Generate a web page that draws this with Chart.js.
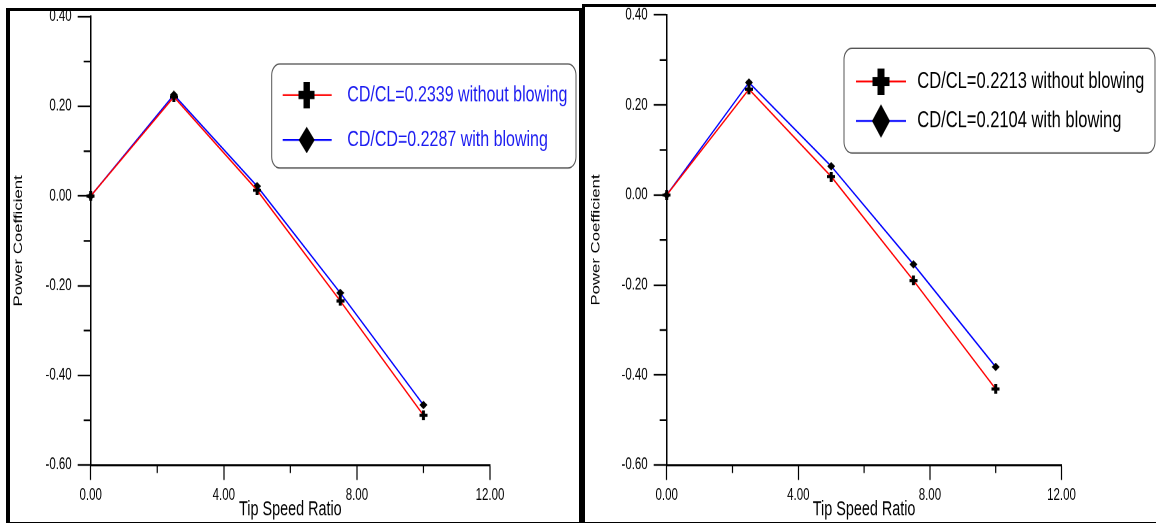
<!DOCTYPE html>
<html>
<head>
<meta charset="utf-8">
<title>Power Coefficient vs Tip Speed Ratio</title>
<script src="https://cdn.jsdelivr.net/npm/chart.js@4.4.1/dist/chart.umd.min.js"></script>
<style>
    html, body { margin: 0; padding: 0; background: #fff; overflow: hidden; }
    body { width: 1156px; height: 523px; position: relative; }
    .frame { position: absolute; box-sizing: border-box; border: 3px solid #000; }
    #frame-a { left: 6px; top: 8px; width: 576px; height: 517px; border-left-width: 4px; }
    #frame-b { left: 582px; top: 4px; width: 580px; height: 521px; }
    canvas { position: absolute; top: 0; transform-origin: 0 0; }
    #chart-a { left: 0; }
    #chart-b { left: 582px; }
</style>
</head>
<body>
<div class="frame" id="frame-a"></div>
<div class="frame" id="frame-b"></div>
<canvas id="chart-a" width="580" height="374"></canvas>
<canvas id="chart-b" width="574" height="374"></canvas>

<script>
/* =============================================
   Data
   ============================================= */

const tipSpeedRatio = [0, 2.5, 5, 7.5, 10];

// left panel
const cpWithoutBlowingA = [0, 0.221, 0.013, -0.234, -0.489];
const cpWithBlowingA = [0, 0.226, 0.022, -0.216, -0.466];
const seriesNamesA = ['CD/CL=0.2339 without blowing', 'CD/CD=0.2287 with blowing'];

// right panel
const cpWithoutBlowingB = [0, 0.235, 0.041, -0.190, -0.431];
const cpWithBlowingB = [0, 0.250, 0.064, -0.154, -0.382];
const seriesNamesB = ['CD/CL=0.2213 without blowing', 'CD/CL=0.2104 with blowing'];

const xRange = [0, 12];
const xStep = 2;
const yRange = [-0.6, 0.4];
const yStep = 0.1;
const xTitle = 'Tip Speed Ratio';
const yTitle = 'Power Coefficient';

/* =============================================
   Look
   ============================================= */

// the original figure is squashed sideways, so each canvas is drawn
// in a shorter box and stretched back up to the window height
const STRETCH = 523 / 374;
const FONT = "'Liberation Sans', Arial, sans-serif";

// filled black marker drawn on a canvas, loaded back as an <img>
// so it stays crisp on the 2x chart canvas
function makeMarker(shape, w, h, barW, barH) {
    const k = 3;
    const c = document.createElement('canvas');
    c.width = w * k;
    c.height = h * k;
    const g = c.getContext('2d');
    g.scale(k, k);
    g.fillStyle = '#000';
    if (shape === 'plus') {
        g.fillRect((w - barW) / 2, 0, barW, h);
        g.fillRect(0, (h - barH) / 2, w, barH);
    } else {
        g.beginPath();
        g.moveTo(w / 2, 0);
        g.lineTo(w, h / 2);
        g.lineTo(w / 2, h);
        g.lineTo(0, h / 2);
        g.closePath();
        g.fill();
    }
    return new Promise(resolve => {
        const img = new Image();
        img.onload = () => resolve(img);
        img.width = w;
        img.height = h;
        img.src = c.toDataURL();
    });
}

// short ticks between the labelled ones
const minorTicks = {
    id: 'minorTicks',
    afterDraw(chart, args, opts) {
        const { ctx, scales: { x, y } } = chart;
        ctx.save();
        ctx.strokeStyle = '#000';
        ctx.lineWidth = 1.2;
        ctx.beginPath();
        y.ticks.forEach((t, i) => {
            if (i % 2) {
                const py = y.getPixelForValue(t.value);
                ctx.moveTo(y.right - opts.yLen, py);
                ctx.lineTo(y.right, py);
            }
        });
        x.ticks.forEach((t, i) => {
            if (i % 2) {
                const px = x.getPixelForValue(t.value);
                ctx.moveTo(px, x.top);
                ctx.lineTo(px, x.top + opts.xLen);
            }
        });
        ctx.stroke();
        ctx.restore();
    }
};

// rounded legend box with line sample + big marker per series
const boxLegend = {
    id: 'boxLegend',
    afterDraw(chart, args, opts) {
        const ctx = chart.ctx;
        ctx.save();
        ctx.beginPath();
        ctx.roundRect(opts.x, opts.y, opts.w, opts.h, opts.radius);
        ctx.strokeStyle = '#555';
        ctx.lineWidth = 1;
        ctx.stroke();

        chart.data.datasets.forEach((ds, i) => {
            const row = opts.rows[i];
            ctx.strokeStyle = ds.borderColor;
            ctx.lineWidth = 1.2;
            ctx.beginPath();
            ctx.moveTo(opts.lineFrom, row);
            ctx.lineTo(opts.lineTo, row);
            ctx.stroke();

            const m = opts.markers[i];
            ctx.drawImage(m, opts.markerX - m.width / 2, row - m.height / 2, m.width, m.height);

            ctx.fillStyle = opts.textColor;
            ctx.font = `${opts.fontSize}px ${FONT}`;
            ctx.textBaseline = 'middle';
            ctx.textAlign = 'left';
            ctx.fillText(ds.label, opts.textX, row);
        });
        ctx.restore();
    }
};

function buildPanel(canvasId, p) {
    const canvas = document.getElementById(canvasId);
    canvas.style.transform = `scaleY(${STRETCH})`;

    return new Chart(canvas.getContext('2d'), {
        type: 'line',
        data: {
            datasets: [
                {
                    label: p.names[0],
                    data: tipSpeedRatio.map((x, i) => ({ x, y: p.without[i] })),
                    borderColor: '#ff0000',
                    borderWidth: 1.2,
                    pointStyle: p.smallPlus,
                    pointRadius: 4,
                    tension: 0,
                    clip: false
                },
                {
                    label: p.names[1],
                    data: tipSpeedRatio.map((x, i) => ({ x, y: p.with[i] })),
                    borderColor: '#0000ff',
                    borderWidth: 1.2,
                    pointStyle: p.smallDiamond,
                    pointRadius: 4,
                    tension: 0,
                    clip: false
                }
            ]
        },
        options: {
            responsive: false,
            animation: false,
            devicePixelRatio: 2,
            events: [],
            layout: { padding: { left: 0, top: p.areaTop, right: p.padRight, bottom: 0 } },
            plugins: {
                legend: { display: false },
                tooltip: { enabled: false },
                minorTicks: { yLen: 7, xLen: 5.7 },
                boxLegend: p.legend
            },
            scales: {
                x: {
                    type: 'linear',
                    min: xRange[0],
                    max: xRange[1],
                    afterFit(s) {
                        s.height = p.xHeight;
                        s.paddingLeft = 0;
                        s.paddingRight = 0;
                    },
                    border: { display: true, color: '#000', width: 1.5 },
                    grid: {
                        drawOnChartArea: false,
                        tickLength: 10.7,
                        tickWidth: 1.2,
                        tickColor: c => (c.index % 2 ? 'rgba(0,0,0,0)' : '#000')
                    },
                    ticks: {
                        stepSize: xStep,
                        autoSkip: false,
                        maxRotation: 0,
                        padding: 4.3,
                        color: '#000',
                        font: { family: FONT, size: 11.5 },
                        callback: (v, i) => (i % 2 ? '' : Number(v).toFixed(2))
                    },
                    title: {
                        display: true,
                        text: xTitle,
                        color: '#000',
                        font: { family: FONT, size: 14.4 },
                        padding: { top: 0, bottom: 0.8 }
                    }
                },
                y: {
                    type: 'linear',
                    min: yRange[0],
                    max: yRange[1],
                    afterFit(s) {
                        s.width = p.yWidth;
                        s.paddingTop = 0;
                        s.paddingBottom = 0;
                    },
                    border: { display: true, color: '#000', width: 1.5 },
                    grid: {
                        drawOnChartArea: false,
                        tickLength: 13,
                        tickWidth: 1.2,
                        tickColor: c => (c.index % 2 ? 'rgba(0,0,0,0)' : '#000')
                    },
                    ticks: {
                        stepSize: yStep,
                        autoSkip: false,
                        padding: 6,
                        color: '#000',
                        font: { family: FONT, size: 11.5 },
                        callback: (v, i) => (i % 2 ? '' : Number(v).toFixed(2))
                    },
                    title: {
                        display: true,
                        text: yTitle,
                        color: '#000',
                        font: { family: FONT, size: 12 },
                        padding: { top: p.yTitlePad, bottom: 0 }
                    }
                }
            }
        },
        plugins: [minorTicks, boxLegend]
    });
}

Promise.all([
    makeMarker('plus', 8, 7, 3, 2.2),
    makeMarker('diamond', 8, 6),
    makeMarker('plus', 16, 19, 6.5, 6),
    makeMarker('diamond', 16, 19),
    makeMarker('plus', 17, 19, 7, 6.4),
    makeMarker('diamond', 18, 24)
]).then(([smallPlus, smallDiamond, plusA, diamondA, plusB, diamondB]) => {
    buildPanel('chart-a', {
        names: seriesNamesA,
        without: cpWithoutBlowingA,
        with: cpWithBlowingA,
        smallPlus,
        smallDiamond,
        areaTop: 16.7 / STRETCH,
        padRight: 90,
        yWidth: 90.7,
        xHeight: 374 - 465 / STRETCH,
        yTitlePad: 11.3,
        legend: {
            x: 271.7, y: 64 / STRETCH, w: 304.3, h: 104 / STRETCH, radius: 8,
            rows: [95 / STRETCH, 140 / STRETCH],
            lineFrom: 282.7, lineTo: 331.7, markerX: 306.7,
            markers: [plusA, diamondA],
            textX: 347.3, fontSize: 16, textColor: '#1c1cf0'
        }
    });

    buildPanel('chart-b', {
        names: seriesNamesB,
        without: cpWithoutBlowingB,
        with: cpWithBlowingB,
        smallPlus,
        smallDiamond,
        areaTop: 15 / STRETCH,
        padRight: 94.5,
        yWidth: 84.7,
        xHeight: 374 - 465 / STRETCH,
        yTitlePad: 6.8,
        legend: {
            x: 262, y: 48.3 / STRETCH, w: 311, h: 104.7 / STRETCH, radius: 8,
            rows: [81.5 / STRETCH, 121 / STRETCH],
            lineFrom: 274, lineTo: 324, markerX: 299,
            markers: [plusB, diamondB],
            textX: 335.3, fontSize: 16.5, textColor: '#000'
        }
    });
});
</script>
</body>
</html>
